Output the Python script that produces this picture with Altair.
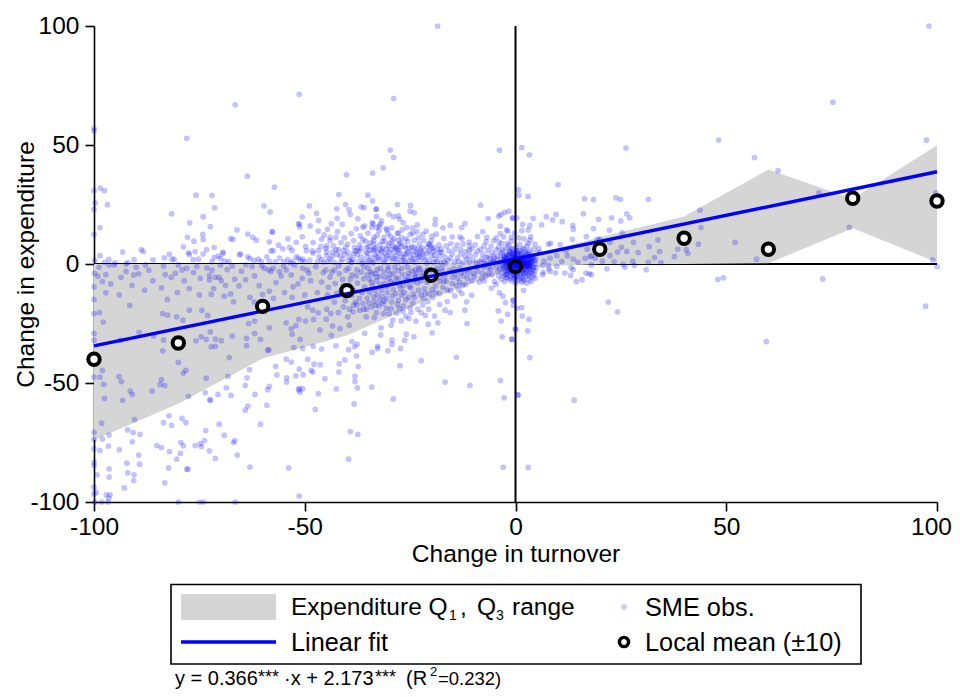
import altair as alt
import pandas as pd

obs_outliers_up = [(-18.5,100),(98.1,100),(-51.3,71.3),(-28.9,69.5),(75.3,68),(-66.5,66.9),(-100,56.9),(-100,55.9),(-78,52.8),
(48.2,52.1),(97.5,52),(-29.7,47.9),(-28.9,44.8),(-3.8,47.8),(1.5,48.9),(26.2,48.7),(3.3,45.9),(56.7,44.7),(62.3,39.2),(-31.4,40.4),
(-33.9,38.2),(-40.1,37.5),(-63.6,36.9),(10.1,33.3),(-57.2,32.3),(-98.5,31.9),(-97.5,30.8),(-100,30.8),(72,29.9),(99.7,29.9),
(0.7,31.2),(0.8,28.9),(3,28.4),(16.4,27.4),(18.5,27),(23.8,27.8),(24.9,27.2),(31.5,27.2),(43.8,22.6),(44,15.3),(79.2,15.4)]
obs_upper_left = [(-75.8,28.9),(-72,28.8),(-41.9,29.2),(-35,28.9),(-33.9,26.5),(-99.7,25.6),(-96.8,24.9),(-100,23),(-59.7,24.4),(-48.9,24.4),
(-58.2,21.9),(-81.6,21.1),(-71.4,23.6),(-40.3,25),(-42.4,23.2),(-39.5,22.8),(-39.2,20.9),(-36.6,24),(-35.9,23.7),(-33.1,23),(-33,23.1),
(-28,25),(-24.9,24.6),(-25,22.2),(-24,21.5),(-8.3,24.7),(-4,20.1),(-2.6,21.6),(-1.6,22.2),(-3.5,20.8),(-47.2,21.3),(-50.6,19.8),(-74.1,19.9),
(-42.3,19.2),(-46.7,18.3),(-28.9,19.9),(-27.8,20.2),(-27.5,18.8),(-6.5,19.1),(-0.6,19.2),(-19,18.7),(-77.3,17.3),(-51.5,16.9),(-51.3,16.8),
(-43.7,16.9),(-41.1,16.6),(-48.7,16),(-72.4,15.7),(-98.6,15.3),(-51.2,15.5),(-32,16.9),(-33.8,16.9),(-36.2,15.4),(-35.8,16),(-34.1,15.4),
(-32.9,15.4),(-32.3,16),(-30.7,14.9),(-30.5,14.3),(-19.1,16.6),(-23.3,16.4),(-24.4,15.2),(-25.8,15.3),(-26.9,14.3),(-27.8,12.9),(-17.2,15.2),
(-15.5,16.3),(-12,17),(-12.8,15.3),(-7.8,13.6),(-3.6,15.9),(-2.1,14.3),(-3.6,12.8),(-66.1,14.3),(-63.5,12.6),(-62.3,11.2),(-61.5,10),
(-57.8,13.6),(-57.6,13.4),(-46.8,13.8),(-74.2,12.4),(-74.1,10.3),(-77.8,11.2),(-76.3,9.6),(-100,12.5),(-67.6,10.7),(-67,10.3),(-58.4,9.3),
(-52,9.1),(-44,11.2),(-42.6,11.2),(-44,9.8),(-46,10.5),(-36.8,11.8),(-33.6,11.2),(-33.6,9.8),(-33.6,8.4),(-22,12.4),(-19.8,11.7),(-13.2,11.4),
(-12.7,10.6),(-6.8,11.2),(-7,9.4),(-35.6,9.6),(-31.6,9.6),(-29.3,9.6),(-27.2,8.9),(-15.3,8.6),(-20.6,8.4),(-20.1,7.6),(-10.9,7.6),(-56.2,7.9),
(-44.8,7.6),(-40.3,7),(-78.8,7.2),(-71.5,6.9),(-88.8,6),(-88.3,5.3),(-93.2,5),(-82.1,4.2),(-77.6,4.7),(-77.4,4),(-73.3,6),(-74.1,4.2),(-76,5.2),
(-69.4,5),(-69.4,4.4),(-65.2,4.2)]
obs_band_top = [(-59,3),(-58,5.5),(-57.5,5.6),(-53,5.7),(-52,3),(-51.5,2.5),(-51,1.5),(-50.5,2),(-50,1),(-49.6,5.6),(-48.2,5.5),(-48,4.5),
(-46.8,5.6),(-46.6,3),(-46,1.8),(-45.5,0.8),(-44.8,3.5),(-44,2),(-43.5,3.3),(-42.6,5.9),(-42,6),(-41.6,3.5),(-41,2),(-40.5,4),(-39.8,5),
(-39.3,3),(-38.6,2),(-38,5.5),(-37.5,5.7),(-37,5.5),(-36.6,3),(-36,1.2),(-35.5,5),(-35,4.5),(-34.5,5.8),(-33.8,5.9),(-33.5,1),(-33,3),
(-32.6,4.8),(-32,6),(-31.5,6.6),(-31,4.5),(-30.5,2.5),(-30,5),(-29.5,3),(-29.3,1),(-29,7.5),(-28.5,7),(-28,6),(-27.5,4.5),(-27,3),(-26.5,1.5),
(-26,6.5),(-25.5,5),(-25,3),(-24.5,1.5),(-24,7),(-23.5,5),(-23,2.8),(-22.5,6),(-22,4.2),(-21.5,1.6),(-21,7),(-20.5,8.4),(-20,3.5),(-19.5,5.3),
(-19,2),(-18.5,5.9),(-18,3.2),(-17.5,4.8),(-17,1),(-16,1.5),(-15.5,2.6),(-15,4.2),(-14.5,0.8),(-13.5,1.1),(-13,4.2),(-12.5,0.6),(-12,3.2),
(-11.5,2),(-11,5.6),(-10,1.6),(-9.5,3.9),(-9,5.5),(-8.5,1),(-8,2),(-7.5,1),(-7,2.8),(-6.5,3),(-6,0.6),(-5.5,4.8),(-5,2.5),(-4.5,5.9),(-4,7),
(-3.5,4.5),(-3,6),(-2.5,3.5),(-2,8.6),(-1.5,5.5),(-1,9.6),(-0.5,4),(-70.5,3.3),(-70,2.4),(-71.5,2.8),(-72,1),(-75.2,2),(-68,1),(-65.5,3.9),
(-63.5,3),(-63,2.3),(-62,1.5),(-61,2),(-60.3,1),(-57,0.9),(-55,1),(-54,1.8),(-98.6,3.5),(-96.5,1.9),(-95,0.5),(-92,0.6),(-90.5,1.8),(-86,1.7),
(-83.3,2.6),(-81.5,1.9),(-81,2),(-99.8,1.5),(-97.5,0.7),(-76.5,1.8),(-69,1.2),(-38.2,7),(-36.8,6.6),(-34.8,7.5),(-33.2,6.8),(-30.2,7.7),
(-27.2,7.3),(-26.3,4.2),(-25.2,6.8),(-24.2,3.8),(-23.2,4.2),(-22.6,1.4),(-28.3,2.1),(-28.8,4.8),(-31.6,3.2),(-32.3,1.6),(-34.2,2.5),(-35,0.7),
(-37.2,1.1),(-39,0.6),(-41.5,0.8),(-43,0.7),(-44.5,1.1),(-47,0.9),(-48.8,1.6),(-52.8,1.1),(-53.4,0.5),(-56,2.5),(-58.4,1.1)]
obs_band_lower = [(-98.8,-1.4),(-96.4,-0.4),(-95.2,-0.4),(-92.4,0),(-90,-1.4),(-87.8,-0.4),(-83.5,-0.8),(-80,-0.4),(-78,-1.8),(-75.6,-1.1),
(-73.2,-1.7),(-70,-0.4),(-67.2,-0.8),(-64,-0.4),(-62.5,-1.1),(-60.2,-0.7),(-58.6,-2.5),(-57.5,-1.8),(-55,-0.8),(-54.4,-2.5),(-52.4,-0.4),
(-50.5,-1.8),(-49.4,-2.5),(-47.4,-1.1),(-45,-2.5),(-43,-2.5),(-42,-0.8),(-39.6,-1.8),(-38.8,-4.6),(-37.6,-2.5),(-36,-1.1),(-34.4,-3.2),(-33.2,-3.9),
(-32,-1.8),(-30.2,-2.5),(-28.6,-1.4),(-27,-1.8),(-25.4,-3.9),(-23.8,-2.5),(-22.6,-2.2),(-21,-2.5),(-18.6,-1.8),(-17.4,-3.2),(-14.6,-1.8),(-13,-3.9),
(-11.4,-6),(-9.8,-5.3),(-7.8,-3.9),(-61.9,-5),(-60.8,-9.1),(-59.6,-1.8),(-58,-3.2),(-56,-3.2),(-53.2,-4.6),(-51.6,-8.4),(-52.8,-9.6),(-44,-5.5),
(-42.8,-8.2),(-41,-6.5),(-39.5,-9),(-37.5,-8),(-36,-6.2),(-34.6,-12),(-34,-9),(-33,-7.2),(-31.8,-11),(-31,-8),(-30,-6),(-29,-10.8),(-28.4,-12.4),
(-27.6,-8.8),(-26.4,-12),(-25.6,-7),(-24.8,-10),(-24,-5),(-23.2,-8),(-22.4,-13),(-21.6,-10.5),(-20.6,-7),(-19.6,-14),(-19,-9.2),(-18,-12.4),
(-17.2,-9.8),(-16.4,-7.2),(-15.4,-11.2),(-15,-5.6),(-14,-9),(-13.2,-7.6),(-12.4,-5),(-11.2,-3.8),(-10.4,-7),(-9,-3),(-8,-6),(-6.4,-4),
(-44.6,-13),(-43,-16),(-41.4,-11.6),(-40.4,-15.4),(-38.8,-13.2),(-37.6,-17),(-36.4,-12),(-35.2,-14.4),(-33.6,-15.8),(-32.8,-13),(-30.6,-14.5),
(-29.4,-16),(-27.8,-15.2),(-26.6,-17.6),(-25.4,-14),(-24.4,-16.4),(-23.2,-19),(-22,-17.2),(-20.8,-15.8),(-47,-12),(-46,-7.6),(-48.6,-7),(-50,-13),
(-54.8,-12),(-56.8,-7.8),(-58.4,-11.4),(-64,-6.6),(-65.6,-9.2),(-63,-14),(-68.4,-2.4),(-69.8,-7),(-74.8,-6),(-76.4,-3.6),(-86,-7),(-88,-11),
(-96,-8.4),(-93.6,-5.6)]
obs_gray_zone = [(-97.2,-12.1),(-91.5,-17.4),(-97.8,-24.4),(-100,-14.9),(-100,-20.8),(-100,-29.2),(-100,-32),(-98.7,-20.4),(-89.3,-28.7),(-93.7,-32),
(-85.9,-30.3),(-82.6,-14.9),(-83.7,-20.9),(-82.5,-21.5),(-80.4,-22.2),(-78.9,-23.6),(-77.4,-19.4),(-74.4,-19.5),(-73,-21.6),(-72.4,-28.5),(-72.2,-12.8),
(-71.6,-10.3),(-69.1,-13.5),(-67.6,-12.6),(-66.9,-15.9),(-77.4,-10.3),(-72.6,-4.8),(-71.2,-5.6),(-70.3,-5.6),(-72.6,-6.7),(-83.1,-4.5),(-81.7,-5.6),
(-80.7,-3.9),(-79.1,-2.5),(-92.4,-3.1),(-90.6,-4.6),(-89.4,-4.1),(-99.1,-5.1),(-97.2,-4.5),(-99.9,-3.9),(-83.7,-36.5),(-83.5,-32),(-80,-41.3),(-78.8,-45.8),
(-78.2,-44.7),(-73.4,-48),(-77.6,-55.6),(-84,-48.6),(-84.3,-50.6),(-83.2,-51.1),(-86.2,-53.4),(-91.4,-53.4),(-90.9,-54.8),(-93.2,-57.3),(-97.5,-56.5),
(-93.5,-49.4),(-94.1,-47.3),(-97.7,-50.6),(-98.6,-47.5),(-98,-44.7),(-100,-47.5),(-67.9,-39.3),(-68.2,-47.2),(-75.8,-32.3),(-74.6,-30.6),(-73.4,-31.7),
(-71.2,-31.6),(-69.8,-32.2),(-72.2,-34.8),(-71.2,-34.6),(-67.2,-30.3),(-63.8,-31.3),(-63.8,-34.3),(-61.9,-29.2),(-60.5,-31.7),(-58.4,-26.8),(-58.8,-36.2),
(-58.5,-36.1),(-52.6,-35.1),(-63.3,-25),(-61.9,-24),(-54.4,-24.7),(-53.2,-27.1),(-53,-29.5),(-52.1,-25.9),(-51.4,-23.3),(-49.8,-24),(-51.1,-31.7),(-47.9,-23.3),
(-46.4,-27.7),(-49.3,-18),(-48.1,-19.4),(-46.8,-20.5),(-43.8,-20.8),(-44.9,-23.2),(-43.4,-26),(-43.7,-30),(-41.6,-27.1),(-39.4,-25.7),(-39.8,-22.2),(-39.4,-19),
(-38.6,-20.1),(-37,-19.4),(-35.4,-19),(-35.4,-22.2),(-33.5,-22.5),(-31.3,-20.8),(-33.2,-17.3),(-32.3,-15.2),(-31.5,-16.6),(-29.5,-18.7),(-27.5,-18.7),(-26.7,-20),
(-29.1,-23.6),(-29.5,-25.7),(-31.9,-26.8)]
obs_lower_edge = [(-11.5,-25),(-12,-19.4),(-11.6,-15.9),(-10.4,-13.1),(-12.7,-12.4),(-15.5,-20.4),(-16.7,-19.4),(-18.4,-24.7),(-20.7,-25.3),(-19.8,-28.9),(-19.2,-21.9),
(-21.4,-21.6),(-3.2,-30.6),(-0.9,-31.6),(0,-27.4),(-3.4,-24),(-4.1,-19.7),(-1.9,-21.1),(-3.8,-12.1),(-3,-13.5),(-2.4,-16.2),(-0.6,-15.2),(-5.7,-10.1),(-7.4,-7),
(-23.6,-24),(-25.3,-22.9),(-27.1,-23.9),(-24.1,-30.6),(-25.9,-29.5),(-26.3,-32),(-27.3,-35.5),(-29.3,-33.8),(-29.3,-32),(-30.3,-36.5),(-32.7,-34.6),(-32.7,-35.5),
(-34,-37.1),(-32,-29.8),(-35.8,-29.2),(-37.6,-33.7),(-38.8,-32.6),(-38.2,-34.8),(-39.6,-36),(-42.6,-34.4),(-46,-35.7),(-48,-34.6),(-50.5,-35.5),(-37.7,-38.6),
(-40.5,-40.3),(-41.8,-41.9),(-41.9,-45.4),(-37.3,-43.1),(-38.1,-47.2),(-45.2,-48.2),(-46.3,-42.3),(-47.8,-42.1),(-49.3,-40),(-53.2,-41.2),(-54.4,-40),(-56.9,-43),
(-56.6,-46.6),(-54.3,-47.8),(-54.3,-49.6),(-52.1,-47),(-51.3,-44.2),(-50.4,-46.5),(-48.5,-44.7),(-48.1,-45.4),(-38.1,-49.4)]
obs_bottom = [(-51.3,-97.5),(-53.8,-85.7),(-39.6,-82),(-2.9,-85.4),(-63,-85.3),(-39.2,-70.4),(-37.4,-71.6),(-47.5,-61.1),(-38.3,-58.8),(-29,-56.7),(-2.7,-56.2),(0.5,-55),
(-10.8,-51),(-16.7,-49.6),(-3.6,-49),(-14,-39.2),(-22.4,-40.6),(-27.4,-42.7),(-34.1,-51.7),(-37.5,-52),(-42.5,-52.5),(-46.8,-54.5),(-51.3,-52.4),(-51.5,-52.8),(-50.5,-52.4),
(-51.1,-53.9),(-58.4,-51.4),(-58.8,-52.8),(-59,-59.3),(-61.8,-54.8),(-64.1,-51),(-63.7,-47.8),(-63.1,-44.4),(-68.6,-52),(-67.5,-55.2),(-70.6,-54.8),(-72.5,-57),(-72.4,-57.3),
(-73.6,-54),(-63.5,-59.7),(-64.1,-61.4),(-60.5,-67.3),(-70.3,-67.3),(-73.5,-70),(-69.1,-72),(-73.8,-74.2),(-66.9,-75),(-66.6,-74.2),(-76,-76.3),(-74.8,-75.5),(-74.5,-76.7),
(-72.6,-78.5),(-66,-80.3),(-71.2,-81.7),(-79.4,-75),(-78.8,-76.4),(-79.5,-79.6),(-82.1,-78.8),(-80.4,-82),(-82.3,-85.7),(-78,-86.2),(-77.7,-86.2),(-85.1,-76.3),(-84,-77.1),
(-89.4,-80.3),(-89.2,-84.1),(-92.2,-83.7),(-94,-78),(-90.9,-74.7),(-90.7,-70.8),(-89.1,-71.6),(-92,-69.7),(-83.5,-66.7),(-81.6,-67.8),(-82.2,-63.8),(-79.1,-64.9),(-78.2,-66.7),
(-90.4,-65.3),(-98.2,-66.9),(-96.4,-71.9),(-98,-73.5),(-100,-70.7),(-100,-73.7),(-100,-77.7),(-96.6,-76.5),(-98.6,-78.4),(-92,-87.8),(-90.5,-88.6),(-90.6,-91),(-96.4,-86.1),
(-96.4,-89.5),(-99.3,-88.6),(-92.8,-94.1),(-83.2,-92),(-100,-83.3),(-100,-84.7),(-100,-93.8),(-100,-96.6),(-99.5,-96),(-96.2,-97),(-97.1,-97),(-96.5,-98.4),(-96.7,-100),
(-98.2,-100),(-99.8,-100),(-80,-100),(-75,-100),(-74,-100),(-66.5,-100),(3,-85.5),(13.9,-57.2),(0.6,-55),(3.4,-39.3),(2.9,-28.1),(0,-27.4),(-0.8,-31.7),(3.2,-23.2),(1.6,-21.9),
(1.5,-18.3),(-0.5,-15.3),(-0.5,-17.4),(0.4,-18.5),(1.9,-11.1),(59.5,-32.6),(97.3,-17.7)]
obs_right = [(9.6,20.8),(8.8,18.5),(7.3,19.9),(11.1,17.8),(4.2,19.2),(6.2,16.4),(16.1,21.1),(26.4,21.1),(27.1,19.4),(22.8,19.4),(25,18.1),(19.7,18.8),(13.6,16.2),(13.7,14.5),
(18.5,14.9),(22.3,14.2),(25.3,13.1),(16.8,11.5),(13.5,10.3),(33.8,10.1),(31.7,7.3),(28,9.1),(43.4,8.3),(52.1,9.1),(38.5,6.3),(40.5,6),(40.9,4.4),(37.7,3.1),(34.2,5.2),(33,2.7),
(34.5,0.6),(57.2,2),(99,1.7),(25.1,7),(26.4,5.3),(24.2,5),(29.1,4.8),(22.4,3.5),(18,3.5),(17,6.2),(19.4,10.5),(20,10.5),(22.4,9.1),(12,5.6),(10.6,8.1),(8.3,8.7),(7.8,8.4),
(5.8,4.9),(9.8,3.5),(8.2,2.5),(12.3,3.5),(13.7,2.1),(16.5,2.4),(17.7,3.1),(18.9,2.5),(27.8,1.1),(31.5,0.7),(3.4,16.2),(1.7,16.6),(1.5,14),(3,14.3),(0.3,19.4),(-0.7,19.4),
(3.6,11.5),(3,8.7),(4.6,8.4),(100,-1),(72.9,-6.3),(49.3,-5.8),(48,-6.5),(22,-16),(24.2,-20.1),(14.4,-7.4),(15.8,-6.6),(16.7,-3.8),(17.5,-4.1),(18,-4.5),(13.1,-4.8),(11.7,-3.8),
(9.5,-3.7),(8.2,-3),(6.4,-4.5),(6.6,-3.5),(7.9,-2),(9.8,-1),(7.8,-0.6),(6.4,-0.6),(13.2,-1.5),(13.7,-2.4),(18,-0.4),(21.7,-2),(25.5,-0.1),(26,-1.3),(28.2,-0.6),(31,-2.4),
(5.5,6.6),(6.8,1.2),(11,1.1),(14.8,0.8),(20.6,1.2),(23.4,0.9)]
obs_origin = [(-4.6,-1),(-4.4,1.6),(-4.2,3.4),(-4.2,-3),(-4,-5),(-3.8,0.4),(-3.7,-2),(-3.5,2.4),(-3.4,-6.4),(-3.2,-3.8),(-3.2,5),(-3,0.8),(-3,-1.4),(-2.8,3),(-2.8,-5),
(-2.6,-7.4),(-2.5,1.5),(-2.4,-2.8),(-2.3,6.6),(-2.2,-0.2),(-2.1,4),(-2,-4.2),(-2,2.2),(-1.9,-6),(-1.8,0.6),(-1.7,-1.8),(-1.6,7.8),(-1.5,3.2),(-1.4,-3.2),(-1.4,1.2),(-1.3,5.2),
(-1.2,-5),(-1.1,-0.8),(-1,2.6),(-1,-7),(-0.9,0.2),(-0.8,4.4),(-0.8,-2.4),(-0.7,1.6),(-0.6,-4),(-0.6,6.2),(-0.5,-1),(-0.4,3),(-0.4,-6),(-0.3,0.8),(-0.2,-2),(-0.2,1.8),(-0.1,5),
(0,-3.4),(0,0.4),(0,2.8),(0,-8),(0.1,-1.2),(0.2,1.2),(0.2,7),(0.3,-5),(0.4,3.6),(0.4,-2.2),(0.5,0.2),(0.6,-7),(0.6,5.4),(0.7,1.8),(0.8,-3.4),(0.9,-0.6),(1,2.8),(1,8.2),(1.1,-5.4),
(1.2,0.8),(1.3,4.4),(1.4,-2),(1.5,-7.6),(1.6,1.6),(1.7,6.4),(1.8,-0.4),(1.9,-4),(2,3),(2,-6.4),(2.2,0.4),(2.3,5.2),(2.4,-2.6),(2.5,1.8),(2.6,-8),(2.7,7.6),(2.8,-0.8),(2.9,3.6),
(3,-4.6),(3.1,1),(3.2,-6.6),(3.3,5.8),(3.4,-2.2),(3.5,2.2),(3.6,-0.4),(3.7,-7.4),(3.8,4),(3.9,-3.6),(4,1),(4.1,-5.4),(4.2,2.8),(4.3,-1.4),(4.4,6.2),(4.5,-3),(4.6,0.2),(4.7,-6),
(4.8,2),(5,-1.6),(5.2,4.4),(0.2,-0.3),(-0.3,-0.6),(0.6,0.1),(-0.7,-1.3),(1,-1.2),(1.4,0.2),(-1.2,0.4),(-1.6,-0.8),(1.9,1.3),(2.3,-1),(-2.4,1),(-5.2,0.8),(-5.8,-2.2),(-6,2.4),
(-3.3,8.6),(-1,11.2),(-0.2,13),(0.8,11),(2,10.6),(3.4,10)]
obs_origin_core = [(-3.1,-0.4),(-2.7,-1.9),(-2.6,2.6),(-2.3,0.4),(-2.1,-3.3),(-1.9,1.4),(-1.7,3.6),(-1.6,-2.6),(-1.3,-1.1),(-1.2,2),(-1,-3.8),(-0.9,4.6),(-0.8,0.9),(-0.6,-1.7),(-0.5,2.2),
(-0.3,-3),(-0.2,4),(-0.1,-0.5),(0.1,1.9),(0.2,-1.6),(0.3,3.2),(0.4,-3.9),(0.6,1.1),(0.7,-0.9),(0.8,4),(0.9,-2.5),(1.1,0.2),(1.2,2.2),(1.3,-1.6),(1.5,-3.4),(1.6,3.2),(1.8,0.8),(1.9,-2.3),
(2.1,1.9),(2.2,-1.2),(2.4,3.6),(2.6,-0.2),(2.7,-3.2),(2.9,1.4),(3,-1.6),(3.2,2.8),(3.3,-0.8),(3.5,0.6),(3.6,-3),(3.8,1.8),(4,-0.9),(0,0.9),(0,-1),(0.5,-0.4),(-0.5,0.2),(1,0.6),(-1,0.4),
(1.5,-0.6),(-1.5,-0.3),(2,0.2),(2.5,0.6),(3,-0.2),(-2,0.8),(-0.2,-4.8),(0.9,-6.2),(1.7,-5.6),(2.5,-5),(3.4,-5.4),(-1.2,-6.1),(-2.2,-5.6),(0.1,5.8),(1.1,5.6),(2,6.4),(3,4.8),(-1.1,6.6),
(-2.9,1.8),(-2.5,-1),(-2.2,3.2),(-1.8,-3.8),(-1.5,0.2),(-1.1,-2.4),(-0.9,1.4),(-0.7,3.3),(-0.4,-1.4),(-0.1,2.4),(0.2,0.6),(0.5,-3),(0.8,2.2),(1,-0.2),(1.3,1.3),(1.6,-1.1),(1.9,2.5),(2.2,-0.6),
(2.5,-2.2),(2.8,0.4),(3.1,2),(3.4,-1.4),(3.7,1),(4,2.6),(4.2,-2.2),(0.4,0.4),(-0.2,-0.2),(0.9,0.9),(1.4,-1.4),(1.8,0.1),(2.4,1),(2.9,-1),(3.3,0.2),(-0.6,0.7),(-1.2,-0.4),(-1.9,-0.9),(0.6,-1.8),(1.7,-2.9),
(-0.5,-4.6),(1.2,-4.4),(2.2,-4),(3.2,-3.8),(-1.4,4.4),(0.5,4.6),(1.5,4.2),(2.6,4.4),(3.6,3.4),(-2.4,-4.6),(4.4,-4.4),(4.5,1.4),(0,-5.8),(1.9,-7)]
obs_dense_top = [(-46.2,7.4),(-45.4,12.2),(-44.8,5),(-43.2,7.6),(-42.2,13.6),(-41.4,9),(-40.6,11),(-39.8,8.4),(-39,12.8),(-38.4,9.8),(-37.8,14.8),(-37,8),(-36.2,10.2),(-35.4,7),(-35,13),
(-34.4,9),(-34,17.4),(-33.4,6.2),(-32.8,12),(-32.2,8),(-31.8,18.2),(-31.2,11.2),(-30.6,6.4),(-30.2,12.8),(-29.8,8.8),(-29.4,15.2),(-28.8,10.6),(-28.4,6.6),(-28,13),(-27.6,8.2),(-27,11),
(-26.6,17.4),(-26.2,7.6),(-25.6,9.6),(-25,12.4),(-24.6,7.4),(-24,10),(-23.4,13.6),(-22.8,8.4),(-22.2,6.8),(-21.8,10),(-21.2,13.8),(-20.6,5.4),(-20,9.8),(-19.4,7),(-18.8,12.6),(-18.2,8),
(-17.6,6.4),(-17,10.8),(-16.4,7.6),(-15.8,5.6),(-15,11.4),(-14.4,6.2),(-13.8,8),(-13,6),(-12.4,8.4),(-11.8,5.2),(-11,9.2),(-10.4,6.4),(-9.6,8),(-9,11.6),(-8.2,6.2),(-7.4,7.6),(-6.6,5.6),(-5.8,7.4),
(-5.2,9.8),(-4.6,11),(-3.9,9.2),(-2.8,11.4),(-1.8,13.8),(-33,20),(-30,21),(-37.4,19),(-44.6,14.6),(-48,9),(-49.8,7.4),(-53.6,7),(-55.2,6.4),(-50.6,11.4),(-54,10.6),(-38.8,0.9),(-36.4,0.4),
(-33.8,0.5),(-31.2,0.7),(-28,0.6),(-26,0.6),(-23.8,0.8),(-21,0.4),(-19.4,0.7),(-17.8,0.6),(-16.6,0.5),(-13.8,2.6),(-11,0.8),(-9.2,0.6),(-7,0.4),(-5.4,1.2),(-5.2,3.4),(-7.8,4.2),(-10.8,3.4),(-16.8,3),
(-35.2,3),(-34.6,1.4),(-33.4,4),(-32.6,2.6),(-31.8,5.4),(-31,1.2),(-30.4,3.6),(-29.6,6),(-29,2.4),(-28.2,3.4),(-27.6,5.6),(-27,1.2),(-26.4,2.8),(-25.8,4.4),(-25.2,1.2),(-24.6,5.4),(-24,2.2),(-23.4,6.2),(-22.8,3.4),
(-22.2,5),(-21.6,2.8),(-21,4.6),(-20.4,1.4),(-19.8,6.4),(-19.2,3.8),(-18.6,1),(-18,5),(-37.6,3.8),(-38.4,4.4),(-39.6,1.4),(-40.8,5.6),(-42.4,4),(-43.4,5),(-45,6.6),(-31,9.4),(-29.6,11.6),(-27.8,10),(-26,10.6),(-24.4,13),(-23,11),(-32.4,14)]
obs_dense_low = [(-45.6,-3.6),(-44.4,-9.8),(-43.6,-3.4),(-42.4,-12.4),(-41.8,-4),(-40.8,-9.2),(-40.2,-2.6),(-39.2,-6.4),(-38.4,-11),(-37.8,-5),(-37,-14.4),(-36.6,-3.4),(-35.8,-9.6),(-35,-1.8),
(-34.6,-6.4),(-34,-4.2),(-33.4,-11),(-32.8,-2.4),(-32.2,-5.2),(-31.6,-13.6),(-31.2,-3.4),(-30.6,-9.6),(-30.2,-1.2),(-29.6,-7.4),(-29,-3.8),(-28.4,-5.8),(-27.8,-2.8),(-27.2,-10.6),(-26.8,-4.4),
(-26.2,-6.6),(-25.6,-1.4),(-25.2,-9.4),(-24.6,-3),(-24.2,-12.6),(-23.6,-5.6),(-23,-1.6),(-22.4,-7),(-22,-3.6),(-21.4,-12.4),(-20.8,-5),(-20.2,-2.4),(-19.8,-10.8),(-19.2,-5.8),(-18.4,-3.4),(-18,-7.4),
(-17.4,-1.4),(-16.8,-5),(-16.2,-11),(-15.6,-2.8),(-15,-8.2),(-14.4,-4.2),(-13.8,-6),(-13.2,-1.6),(-12.6,-9),(-12,-2.8),(-11.8,-8.6),(-10.8,-2),(-10,-4),(-9.2,-1.2),(-8.6,-7.6),(-7.6,-1.4),(-7,-5),
(-6.4,-1.6),(-5.6,-4.6),(-5,-7.4),(-4.6,-8.6),(-44.8,-19),(-42,-20.4),(-40.8,-18),(-38.4,-17.4),(-36.2,-16.6),(-34.2,-18),(-33,-20.4),(-30.6,-18.6),(-30,-21),(-28.2,-20.6),(-26,-22),(-24.8,-20.4),
(-22.4,-20.4),(-20.6,-19),(-18,-17),(-16.2,-15.8),(-14.4,-13.4),(-13.4,-11),(-49,-3.8),(-50.6,-6),(-53,-14),(-55.6,-5),(-57.4,-14.4),(-60,-12.8),(-62,-16),(-65,-3),(-66.6,-6.4),(-68.8,-9),(-72,-2.6),
(-75,-13),(-78.6,-7),(-80.2,-12),(-84,-10),(-87,-2.6),(-91,-9),(-94,-13),(-98,-7.4),(-100,-9.6),
(-38,-16),(-36,-19),(-34.8,-16.4),(-33.6,-13.8),(-32.4,-17.6),(-31.2,-15.6),(-30.4,-12),(-29.2,-13.4),(-28,-17),(-27,-13),(-26,-15),(-25,-18.4),(-24,-14),(-23,-11),(-21.8,-14.6),(-20.4,-12.6),(-19,-12),
(-35.2,-4.6),(-34.2,-7.6),(-33,-5.4),(-32,-8.6),(-31,-5.6),(-29.8,-4.4),(-28.8,-8),(-27.8,-6.2),(-26.6,-9),(-25.4,-5.4),(-24.2,-7.4),(-23.4,-3.8),(-22.2,-5.2),(-21,-7.6),(-20,-4),(-19,-3),(-18,-5.6),(-17,-7.2)]

band_x = [-100, -80, -60, -40, -20, 0, 20, 40, 60, 80, 100]
band_q3 = [0, 0, 0, 0, 0, 2, 11.2, 20, 39.7, 27.4, 49.9]
band_q1 = [-74, -58.7, -39.7, -30, -14.5, -1.5, 0, 0, 0.3, 15, 0.7]
fit_x = [-100, 100]
fit_y = [-34.43, 38.77]
mean_x = [-100, -80, -60, -40, -20, 0, 20, 40, 60, 80, 100]
mean_y = [-40, -33.2, -17.8, -11.2, -4.7, -1, 6.2, 10.8, 6.2, 27.6, 26.5]
axis_ticks = [-100, -50, 0, 50, 100]

FONT = "Liberation Sans"
W, H = 843, 476
OX, OY = 94, 26  # plot origin on the page

obs = pd.DataFrame(obs_outliers_up + obs_upper_left + obs_band_top + obs_band_lower + obs_gray_zone
                   + obs_lower_edge + obs_bottom + obs_right + obs_origin + obs_origin_core
                   + obs_dense_top + obs_dense_low, columns=["x", "y"])
band = pd.DataFrame({"x": band_x, "q1": band_q1, "q3": band_q3})
fit = pd.DataFrame({"x": fit_x, "y": fit_y})
means = pd.DataFrame({"x": mean_x, "y": mean_y})

xs = alt.Scale(domain=[-100, 100], nice=False, zero=False)
ys = alt.Scale(domain=[-100, 100], nice=False, zero=False)
ax_common = dict(values=axis_ticks, grid=False, labelExpr="'' + datum.value", labelFont=FONT, labelFontSize=24.5,
                 titleFont=FONT, titleFontSize=24.5, titleFontWeight="normal", domainColor="black", domainWidth=1.6,
                 tickColor="black", tickWidth=1.6, tickSize=9, labelColor="black", titleColor="black",
                 labelFlush=False, labelBound=False, labelOverlap=False, titleBaseline="alphabetic")
x_axis = alt.Axis(title="Change in turnover", labelPadding=4, titleX=421.5, titleY=59,
                  labelOffset=alt.expr("datum.value == 100 ? -6 : 0"), **ax_common)
y_axis = alt.Axis(title="Change in expenditure", labelPadding=6, titleX=-61, titleY=238, **ax_common)
X = alt.X("x:Q", scale=xs, axis=x_axis)
Y = alt.Y("y:Q", scale=ys, axis=y_axis)

zero_h = alt.Chart(pd.DataFrame({"x": [-100], "x2": [100], "y": [0]})).mark_rule(color="black", strokeWidth=2).encode(
    x=X, x2="x2:Q", y=Y)
zero_v = alt.Chart(pd.DataFrame({"y": [-100], "y2": [100], "x": [0]})).mark_rule(color="black", strokeWidth=2).encode(
    y=Y, y2="y2:Q", x=X)
area = alt.Chart(band).mark_area(color="#d5d5d5", opacity=1).encode(
    x=X, y=alt.Y("q1:Q", scale=ys, axis=y_axis), y2="q3:Q")
fill = alt.Chart(means).mark_point(filled=True, color="white", opacity=1, size=130).encode(x=X, y=Y)
points = alt.Chart(obs).mark_circle(color="#0000ff", opacity=0.24, size=33).encode(x=X, y=Y)
line = alt.Chart(fit).mark_line(color="#0000ff", strokeWidth=3.4).encode(x=X, y=Y)
rings = alt.Chart(means).mark_point(filled=False, color="black", opacity=1, strokeWidth=4, size=130).encode(x=X, y=Y)


def px(v):
    return alt.value(v - OX)


def py(v):
    return alt.value(v - OY)


def label(text, x, y, size=25.3):
    return alt.Chart(pd.DataFrame({"t": [text]})).mark_text(align="left", baseline="alphabetic", font=FONT, fontSize=size, color="black").encode(
        text="t:N", x=px(x), y=py(y))


legend_box = alt.Chart(pd.DataFrame({"a": [0]})).mark_rect(fill="white", stroke="black", strokeWidth=1.6).encode(
    x=px(171), x2=px(861), y=py(584.5), y2=py(664))
swatch = alt.Chart(pd.DataFrame({"a": [0]})).mark_rect(fill="#d5d5d5").encode(
    x=px(181), x2=px(276), y=py(594), y2=py(620))
legend_line = alt.Chart(pd.DataFrame({"a": [0]})).mark_rule(color="#0000ff", strokeWidth=3.4).encode(
    x=px(181), x2=px(276), y=py(642))
legend_dot = alt.Chart(pd.DataFrame({"a": [0]})).mark_circle(color="#0000ff", opacity=0.22, size=29).encode(
    x=px(624), y=py(607))
legend_ring = alt.Chart(pd.DataFrame({"a": [0]})).mark_point(filled=False, color="black", opacity=1, strokeWidth=3.4, size=85).encode(
    x=px(624), y=py(642))

FY = 684.5  # formula baseline; the page's bottom margin keeps it above the last 8 px
texts = [
    label("Expenditure Q", 291, 615, 24.5), label("1", 449, 620, 14), label(",", 460, 615, 24.5), label("Q", 477, 615, 24.5), label("3", 496, 620, 14), label("range", 512, 615, 24.5),
    label("Linear fit", 291, 651), label("SME obs.", 645, 615.5), label("Local mean (±10)", 645, 651),
    label("y = 0.366", 175, FY, 20), label("***", 258, FY - 1.5, 18), label("·x + 2.173", 284, FY, 20), label("***", 375, FY - 1.5, 18),
    label("(R", 406, FY, 20), label("2", 430, FY - 8.5, 13), label("=0.232)", 438, FY, 18.5),
]

chart = alt.layer(zero_h, zero_v, area, fill, points, line, rings, legend_box, swatch, legend_line, legend_dot, legend_ring, *texts).properties(
    width=W, height=H,
    autosize=alt.AutoSizeParams(type="none"),
    padding={"left": 86, "top": 18, "right": 15, "bottom": 187},
).configure_view(stroke=None)

chart.save("out.html", embed_options={"renderer": "svg", "actions": False})
